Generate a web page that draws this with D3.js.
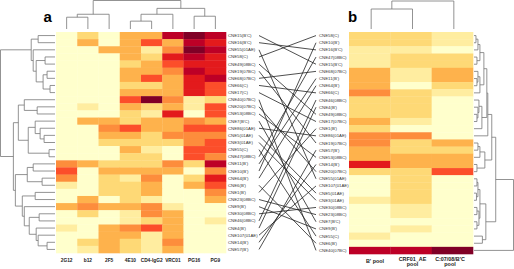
<!DOCTYPE html>
<html>
<head>
<meta charset="utf-8">
<script src="https://cdn.jsdelivr.net/npm/d3@7"></script>
<style>
  html, body { margin: 0; background: #fff; }
  svg { display: block; }
  text { font-family: "Liberation Sans", Arial, sans-serif; }
</style>
</head>
<body>
<div class="svg-container"></div>
<script>
// panel a: neutralisation levels per virus (0 = none, 8 = strongest)
const antibodiesA = ['2G12', 'b12', '2F5', '4E10', 'CD4-IgG2', 'VRC01', 'PG16', 'PG9'];
const virusesA = ["CNE15(B'C)", "CNE16(B'C)", 'CNE55(01AE)', 'CNE58(C)', 'CNE49(08BC)', 'CNE19(07BC)', 'CNE68(07BC)', 'CNE66(C)', 'CNE17(C)', 'CNE40(07BC)', 'CNE20(07BC)', 'CNE53(08BC)', "CNE7(B'C)", 'CNE86(01AE)', 'CNE5(01AE)', 'CNE3(01AE)', 'CNE55(C)', 'CNE47(08BC)', "CNE11(B')", "CNE10(B')", "CNE64(B')", "CNE6(B')", "CNE1(B')", 'CNE23(08BC)', "CNE9(B')", 'CNE30(08BC)', 'CNE46(08BC)', "CNE4(B')", 'CNE107(01AE)', "CNE14(B')", "CNE57(B')"];
const levelsA = [
  [0, 2, 0, 3, 3, 7, 8, 7],
  [0, 3, 0, 3, 5, 3, 7, 6],
  [0, 0, 3, 3, 1, 4, 8, 7],
  [0, 0, 0, 3, 2, 6, 7, 6],
  [0, 0, 0, 2, 3, 5, 6, 6],
  [0, 0, 0, 3, 3, 4, 7, 6],
  [0, 0, 0, 3, 5, 3, 6, 7],
  [0, 0, 0, 2, 2, 3, 6, 5],
  [0, 0, 0, 3, 3, 3, 6, 5],
  [0, 0, 0, 5, 8, 4, 1, 2],
  [0, 1, 0, 3, 2, 3, 1, 5],
  [0, 0, 0, 2, 1, 6, 0, 5],
  [0, 3, 3, 2, 3, 3, 4, 3],
  [0, 0, 4, 5, 3, 3, 5, 5],
  [0, 0, 3, 3, 2, 4, 4, 4],
  [0, 0, 2, 2, 2, 2, 4, 5],
  [0, 0, 0, 3, 1, 0, 5, 5],
  [0, 0, 0, 2, 2, 0, 5, 4],
  [4, 3, 2, 2, 2, 4, 2, 7],
  [5, 0, 3, 3, 3, 3, 0, 4],
  [4, 0, 2, 1, 4, 0, 2, 6],
  [1, 0, 2, 2, 3, 0, 3, 5],
  [0, 0, 2, 2, 3, 0, 0, 4],
  [0, 3, 0, 2, 1, 0, 0, 3],
  [3, 4, 3, 3, 4, 1, 0, 0],
  [0, 2, 0, 1, 4, 3, 0, 0],
  [0, 0, 0, 1, 2, 3, 0, 1],
  [1, 0, 3, 4, 5, 3, 0, 0],
  [0, 0, 3, 3, 1, 3, 0, 0],
  [0, 2, 3, 2, 1, 4, 0, 0],
  [0, 1, 3, 2, 1, 3, 0, 0]
];

// panel b: pooled sera
const poolsB = [["B' pool"], ['CRF01_AE', 'pool'], ["C:07/08/B'C", 'pool']];
const virusesB = ['CNE58(C)', "CNE10(B')", "CNE16(B'C)", 'CNE47(08BC)', "CNE15(B'C)", 'CNE68(07BC)', "CNE11(B')", "CNE64(B')", 'CNE66(C)', 'CNE46(08BC)', "CNE4(B')", 'CNE49(08BC)', 'CNE17(07BC)', "CNE1(B')", 'CNE86(01AE)', 'CNE19(07BC)', "CNE57(B')", 'CNE53(08BC)', "CNE14(B')", 'CNE20(07BC)', 'CNE55(01AE)', 'CNE107(01AE)', 'CNE5(01AE)', 'CNE3(01AE)', 'CNE30(08BC)', 'CNE23(08BC)', "CNE7(B'C)", "CNE9(B')", 'CNE55(C)', "CNE6(B')", 'CNE40(07BC)'];
const levelsB = [
  [2, 2, 1], [2, 2, 1], [1, 1, 0], [1, 2, 2], [1, 2, 2], [3, 1, 3], [3, 1, 3], [3, 0, 2],
  [4, 2, 1], [2, 2, 0], [2, 2, 0], [2, 2, 0], [3, 1, 0], [2, 0, 0], [4, 4, 0], [4, 2, 3],
  [3, 2, 2], [3, 3, 3], [6, 3, 3], [2, 2, 5], [0, 2, 0], [0, 2, 0], [0, 2, 0], [1, 2, 0],
  [0, 1, 0], [0, 1, 0], [0, 0, 0], [0, 1, 0], [1, 0, 0], [0, 0, 0], [7, 7, 8]
];

// dendrograms: [height, left, right], a plain number is a leaf (row or column index)
const rowTreeA = [55,
  [24, [17, 0, 1], [22, 2, [19, [10, 3, 4], [12, [8, 5, 6], [5, 7, 8]]]]],
  [42,
    [37, [31, 9, [18, 10, 11]], [27, [20, 12, [15, 13, [11, 14, 15]]], [6, 16, 17]]],
    [40,
      [28, [22, 18, 19], [13, 20, 21]],
      [33, [20, 22, 23], [31, 24, [26, [16, 25, 26], [19, 27, [17, 28, [8, 29, 30]]]]]]
    ]
  ]
];
const colTreeA = [29, [15, [12, 0, 1], 2], [21, [15, [8, 3, 4], 5], [13, 6, 7]]];
const rowTreeB = [40,
  [22,
    [18,
      [14,
        [13, [10, [6, [4, [2, 0, 1], 2], [3, 3, 4]], [6, [4, 5, [3, 6, 7]], 8]], [8, [5, 9, [4, 10, [3, 11, 12]]], 13]],
        14
      ],
      [11, [6, [4, 15, 16], 17], [3, 18, 19]]
    ],
    [12, [6, [4, [3, 20, 21], [2.5, 22, 23]], [5, [3, 24, 25], [3, 26, 27]]], [8.5, 28, 29]]
  ],
  30
];
const colTreeB = [28, [20, 0, 1], 2];

const colors = d3.scaleQuantize().domain([0, 9]).range(d3.schemeYlOrRd[9]);

const svg = d3.select('.svg-container').append('svg')
  .attr('width', 514)
  .attr('height', 269);

const rowsA = d3.scaleBand().domain(virusesA).range([32, 253]);
const colsA = d3.scaleBand().domain(antibodiesA).range([56, 226]);
const rowsB = d3.scaleBand().domain(virusesB).range([32, 254]);
const colsB = d3.scaleBand().domain(poolsB.map(p => p[0])).range([349, 473]);
const poolLabelX = d3.scalePoint().domain(colsB.domain()).range([375, 450]);

function drawCells(rows, cols, levels) {
  levels.forEach(function(row, i) {
    svg.append('g').selectAll('rect')
      .data(row)
      .join('rect')
      .attr('x', (d, j) => cols(cols.domain()[j]))
      .attr('y', rows(rows.domain()[i]))
      .attr('width', cols.bandwidth() + 0.3)
      .attr('height', rows.bandwidth() + 0.3)
      .attr('fill', d => colors(d));
  });
}
drawCells(rowsA, colsA, levelsA);
drawCells(rowsB, colsB, levelsB);

// row labels
function drawLabels(rows, x) {
  svg.append('g').selectAll('text')
    .data(rows.domain())
    .join('text')
    .attr('x', x)
    .attr('y', d => rows(d) + rows.bandwidth() / 2 + 1.5)
    .attr('font-size', 4.3)
    .attr('fill', '#333')
    .text(d => d);
}
drawLabels(rowsA, 228);
drawLabels(rowsB, 319);

// column labels
svg.append('g').selectAll('text')
  .data(antibodiesA)
  .join('text')
  .attr('x', d => colsA(d) + colsA.bandwidth() / 2)
  .attr('y', 262)
  .attr('text-anchor', 'middle')
  .attr('font-size', 4.8)
  .attr('font-weight', 'bold')
  .attr('fill', '#222')
  .text(d => d);

poolsB.forEach(function(lines) {
  const t = svg.append('text')
    .attr('text-anchor', 'middle')
    .attr('font-size', 5.4)
    .attr('font-weight', 'bold')
    .attr('fill', '#222');
  lines.forEach(function(line, i) {
    t.append('tspan')
      .attr('x', poolLabelX(lines[0]))
      .attr('y', (lines.length > 1 ? 260.5 : 262.5) + i * 5.6)
      .text(line);
  });
});

// panel letters
svg.append('text').attr('x', 43.5).attr('y', 22).attr('font-size', 15).attr('font-weight', 'bold').text('a');
svg.append('text').attr('x', 348).attr('y', 22).attr('font-size', 15).attr('font-weight', 'bold').text('b');

// lines joining the same virus across the panels
function targetRow(label) {
  if (virusesB.includes(label)) return label;
  const name = label.split('(')[0] + '(';
  return virusesB.find(v => v.startsWith(name));
}
svg.append('g').selectAll('line')
  .data(virusesA)
  .join('line')
  .attr('x1', 259)
  .attr('x2', 316)
  .attr('y1', d => rowsA(d) + rowsA.bandwidth() / 2)
  .attr('y2', d => rowsB(targetRow(d)) + rowsB.bandwidth() / 2)
  .attr('stroke', '#222')
  .attr('stroke-width', 0.8);

// dendrograms: lay the tree out on leaf centres, then draw the brackets
function drawTree(tree, leafPos, heightPos, horizontal) {
  const root = d3.hierarchy(tree, d => Array.isArray(d) ? d.slice(1) : null);
  root.eachAfter(function(n) {
    if (n.children) {
      n.pos = d3.mean(n.children, c => c.pos);
      n.h = heightPos(n.data[0]);
    } else {
      n.pos = leafPos(n.data);
      n.h = heightPos(0);
    }
  });
  const path = d3.path();
  const move = horizontal ? (a, h) => path.moveTo(a, h) : (a, h) => path.moveTo(h, a);
  const line = horizontal ? (a, h) => path.lineTo(a, h) : (a, h) => path.lineTo(h, a);
  root.descendants().forEach(function(n) {
    if (!n.children) return;
    const [first, second] = n.children;
    move(first.pos, first.h);
    line(first.pos, n.h);
    line(second.pos, n.h);
    line(second.pos, second.h);
  });
  svg.append('path')
    .attr('d', path.toString())
    .attr('fill', 'none')
    .attr('stroke', '#777')
    .attr('stroke-width', 0.8);
}
const centre = (scale) => (i) => scale(scale.domain()[i]) + scale.bandwidth() / 2;
drawTree(rowTreeA, centre(rowsA), d3.scaleLinear([0, 55], [55, 0.5]), false);
drawTree(colTreeA, centre(colsA), d3.scaleLinear([0, 29], [29, 0.5]), true);
drawTree(rowTreeB, centre(rowsB), d3.scaleLinear([0, 40], [474, 513.5]), false);
drawTree(colTreeB, i => centre(colsB)(i) + 1.5, d3.scaleLinear([0, 28], [29, 1]), true);
</script>
</body>
</html>
